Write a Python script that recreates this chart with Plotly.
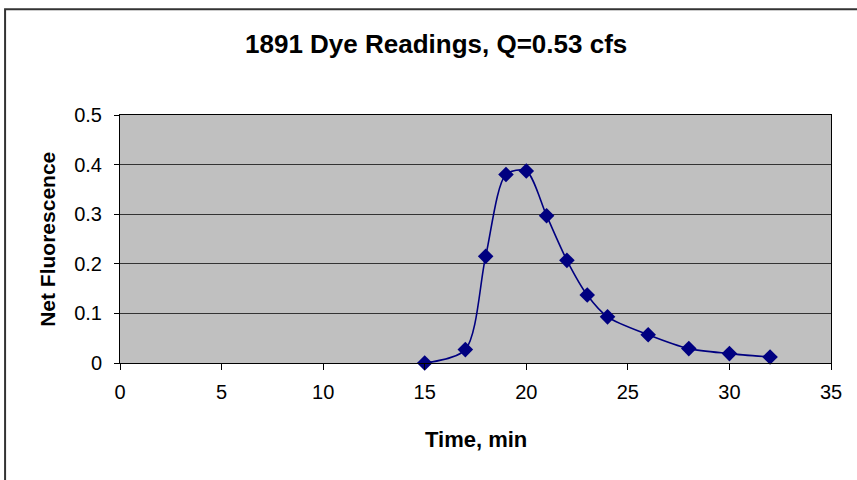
import plotly.graph_objects as go

time_min = [15, 17, 18, 19, 20, 21, 22, 23, 24, 26, 28, 30, 32]
net_fluor = [0.0, 0.027, 0.215, 0.38, 0.387, 0.297, 0.207, 0.137, 0.093, 0.057, 0.029, 0.019, 0.012]

x_ticks = [0, 5, 10, 15, 20, 25, 30, 35]
y_ticks = [0, 0.1, 0.2, 0.3, 0.4, 0.5]
y_tick_text = ["0", "0.1", "0.2", "0.3", "0.4", "0.5"]

title_text = "1891 Dye Readings, Q=0.53 cfs"
x_title = "Time, min"
y_title = "Net Fluorescence"

FONT = "Liberation Sans, Arial, sans-serif"
NAVY = "#000080"

fig = go.Figure()
fig.add_trace(go.Scatter(
    x=time_min, y=net_fluor, mode="lines+markers",
    line=dict(color=NAVY, width=1.6, shape="spline", smoothing=0.8),
    marker=dict(symbol="diamond", size=12, color=NAVY),
    cliponaxis=False, showlegend=False,
))

L, R, T, B = 120, 831.5, 115, 363.5
W, H = 857, 480
pw, ph = R - L, B - T

fig.update_layout(
    width=W, height=H,
    margin=dict(l=L, r=W - R, t=T, b=H - B),
    paper_bgcolor="white", plot_bgcolor="#C0C0C0",
    font=dict(family=FONT, color="black", size=20),
    xaxis=dict(range=[0, 35], tickvals=x_ticks, ticks="outside", ticklen=6,
               tickcolor="black", showgrid=False, zeroline=False,
               showline=True, linecolor="black", linewidth=1, mirror=True,
               tickfont=dict(size=20), ticklabelstandoff=5),
    yaxis=dict(range=[0, 0.5], tickvals=y_ticks, ticktext=y_tick_text,
               ticks="outside", ticklen=5, tickcolor="black",
               showgrid=True, gridcolor="#333333", gridwidth=1, zeroline=False,
               showline=True, linecolor="black", linewidth=1, mirror=True,
               tickfont=dict(size=20), ticklabelstandoff=8),
)

def px_to_paper_x(px):
    return (px - L) / pw

def px_to_paper_y(py):
    return (B - py) / ph

fig.add_annotation(text="<b>" + title_text + "</b>", x=px_to_paper_x(436), y=px_to_paper_y(44),
                   xref="paper", yref="paper", showarrow=False,
                   font=dict(size=26, family=FONT), xanchor="center", yanchor="middle")
fig.add_annotation(text="<b>" + x_title + "</b>", x=px_to_paper_x(476), y=px_to_paper_y(440),
                   xref="paper", yref="paper", showarrow=False,
                   font=dict(size=22, family=FONT), xanchor="center", yanchor="middle")
fig.add_annotation(text="<b>" + y_title + "</b>", x=px_to_paper_x(48), y=px_to_paper_y(240),
                   xref="paper", yref="paper", showarrow=False, textangle=-90,
                   font=dict(size=21, family=FONT), xanchor="center", yanchor="middle")

fig.add_shape(type="rect", xref="paper", yref="paper",
              x0=px_to_paper_x(5), x1=px_to_paper_x(880),
              y0=px_to_paper_y(495), y1=px_to_paper_y(9),
              line=dict(color="#333333", width=2), fillcolor="rgba(0,0,0,0)", layer="below")

fig.write_html("out.html")
